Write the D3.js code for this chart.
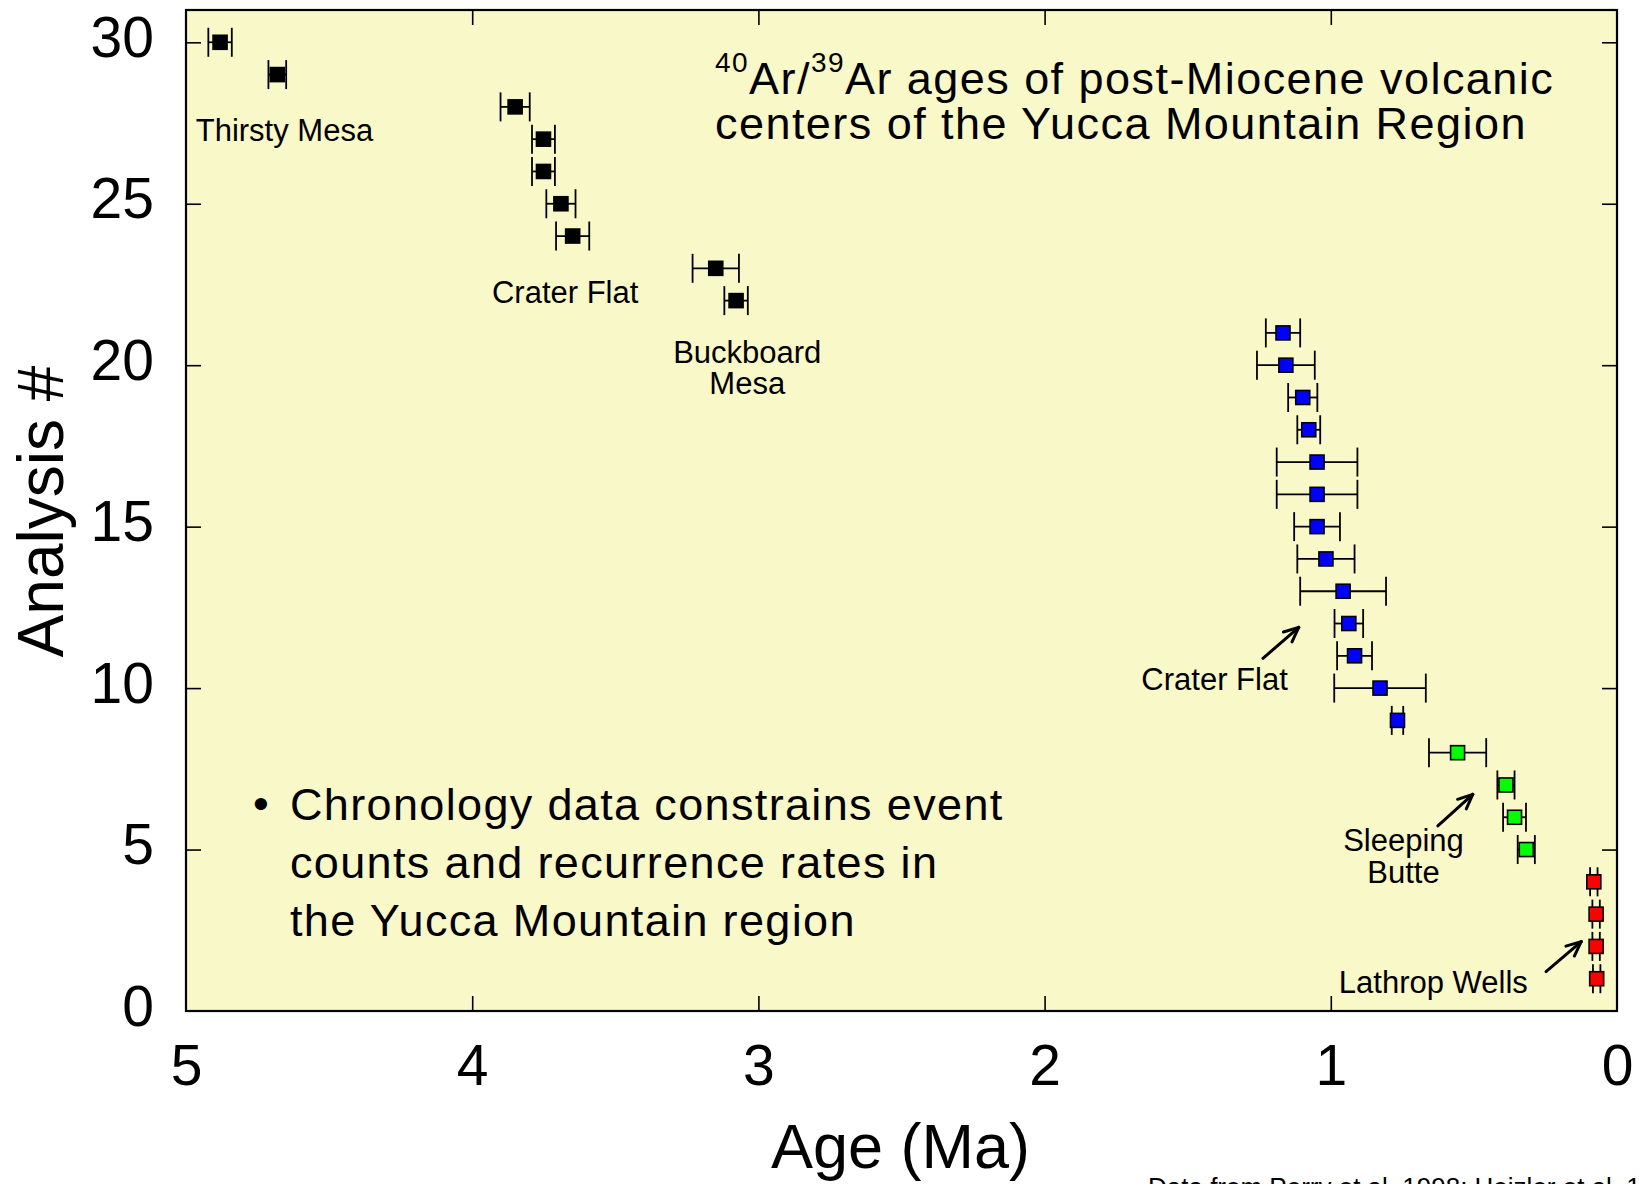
<!DOCTYPE html>
<html>
<head>
<meta charset="utf-8">
<script src="https://cdn.jsdelivr.net/npm/d3@7/dist/d3.min.js"></script>
<style>
  html, body { margin: 0; padding: 0; background: #ffffff; }
  svg { display: block; font-family: "Liberation Sans", Arial, Helvetica, sans-serif; }
</style>
</head>
<body>
<svg id="chart" width="1639" height="1184"></svg>
<script>
// ---------------- DATA ----------------
const analysisNo = [1, 2, 3, 4, 5, 6, 7, 8, 9, 10, 11, 12, 13, 14, 15, 16, 17, 18, 19, 20, 21, 22, 23, 24, 25, 26, 27, 28, 29, 30];
const ageMa = [0.071, 0.073, 0.073, 0.081, 0.317, 0.358, 0.388, 0.557, 0.767, 0.828,
               0.917, 0.937, 0.957, 1.017, 1.048, 1.048, 1.048, 1.077, 1.098, 1.157,
               1.167, 3.078, 3.149, 3.649, 3.690, 3.751, 3.751, 3.850, 4.681, 4.881];
const errMa = [0.013, 0.013, 0.013, 0.013, 0.030, 0.040, 0.030, 0.100, 0.020, 0.160,
               0.061, 0.050, 0.150, 0.100, 0.080, 0.141, 0.141, 0.040, 0.051, 0.101,
               0.060, 0.041, 0.081, 0.058, 0.051, 0.040, 0.040, 0.051, 0.031, 0.041];
const centre = ["Lathrop Wells", "Lathrop Wells", "Lathrop Wells", "Lathrop Wells",
                "Sleeping Butte", "Sleeping Butte", "Sleeping Butte", "Sleeping Butte",
                "Crater Flat (Q)", "Crater Flat (Q)", "Crater Flat (Q)", "Crater Flat (Q)", "Crater Flat (Q)",
                "Crater Flat (Q)", "Crater Flat (Q)", "Crater Flat (Q)", "Crater Flat (Q)", "Crater Flat (Q)",
                "Crater Flat (Q)", "Crater Flat (Q)", "Crater Flat (Q)",
                "Buckboard Mesa", "Buckboard Mesa",
                "Crater Flat (P)", "Crater Flat (P)", "Crater Flat (P)", "Crater Flat (P)", "Crater Flat (P)",
                "Thirsty Mesa", "Thirsty Mesa"];
const xTicks = [5, 4, 3, 2, 1, 0];
const yTicks = [0, 5, 10, 15, 20, 25, 30];

// Annotation labels (data units) and arrows (data units)
const labelText = ["Thirsty Mesa", "Crater Flat", "Buckboard", "Mesa", "Crater Flat", "Sleeping", "Butte", "Lathrop Wells"];
const labelAge  = [4.966, 3.931, 3.039, 3.039, 1.662, 0.746, 0.746, 0.972];
const labelNo   = [26.94, 21.93, 20.08, 19.11, 9.94, 4.96, 3.95, 0.55];
const labelAnchor = ["start", "start", "middle", "middle", "start", "middle", "middle", "start"];
const arrowFromAge = [1.237, 0.626, 0.248];
const arrowFromNo  = [10.92, 5.73, 1.22];
const arrowToAge   = [1.112, 0.504, 0.125];
const arrowToNo    = [11.88, 6.71, 2.15];

const titleLines = ["Ar ages of post-Miocene volcanic", "centers of the Yucca Mountain Region"];
const bulletLines = ["Chronology data constrains event", "counts and recurrence rates in", "the Yucca Mountain region"];

// ---------------- STYLE / LAYOUT ----------------
const colorOf = {
  "Lathrop Wells": "#ff0000",
  "Sleeping Butte": "#00ff00",
  "Crater Flat (Q)": "#0000ff",
  "Buckboard Mesa": "#000000",
  "Crater Flat (P)": "#000000",
  "Thirsty Mesa": "#000000"
};
const plot = { left: 186, right: 1617, top: 10, bottom: 1011 };
const bg = "#f9f8c8";

const svg = d3.select("#chart");
svg.append("rect").attr("width", 1639).attr("height", 1184).attr("fill", "#ffffff");

const x = d3.scaleLinear().domain([5, 0]).range([plot.left, plot.right]);
const y = d3.scaleLinear().domain([0, 31]).range([plot.bottom, plot.top]);

svg.append("rect")
  .attr("x", plot.left).attr("y", plot.top)
  .attr("width", plot.right - plot.left).attr("height", plot.bottom - plot.top)
  .attr("fill", bg);

// Axes with inward ticks on all four sides
const tickLen = 15;
const axB = svg.append("g").attr("transform", `translate(0,${plot.bottom})`)
  .call(d3.axisBottom(x).tickValues(xTicks).tickSizeInner(-tickLen).tickSizeOuter(0).tickPadding(34).tickFormat(d3.format("d")));
const axT = svg.append("g").attr("transform", `translate(0,${plot.top})`)
  .call(d3.axisTop(x).tickValues(xTicks).tickSizeInner(-tickLen).tickSizeOuter(0).tickFormat(""));
const axL = svg.append("g").attr("transform", `translate(${plot.left},0)`)
  .call(d3.axisLeft(y).tickValues(yTicks).tickSizeInner(-tickLen).tickSizeOuter(0).tickPadding(32).tickFormat(d3.format("d")));
const axR = svg.append("g").attr("transform", `translate(${plot.right},0)`)
  .call(d3.axisRight(y).tickValues(yTicks).tickSizeInner(-tickLen).tickSizeOuter(0).tickFormat(""));
[axB, axT, axL, axR].forEach(a => {
  a.select(".domain").remove();
  a.selectAll(".tick line").attr("stroke", "#000").attr("stroke-width", 1.6);
});
axB.selectAll(".tick text").attr("font-size", 57).attr("fill", "#000")
  .attr("font-family", "Liberation Sans, Arial, sans-serif");
axL.selectAll(".tick text").attr("font-size", 57).attr("fill", "#000")
  .attr("font-family", "Liberation Sans, Arial, sans-serif").attr("dy", "0.25em");
// hide tick marks at the very edges (they coincide with the frame)
[axB, axT].forEach(a => a.selectAll(".tick").filter(d => d === 5 || d === 0).select("line").remove());
[axL, axR].forEach(a => a.selectAll(".tick").filter(d => d === 0).select("line").remove());

// Frame
svg.append("rect")
  .attr("x", plot.left).attr("y", plot.top)
  .attr("width", plot.right - plot.left).attr("height", plot.bottom - plot.top)
  .attr("fill", "none").attr("stroke", "#000").attr("stroke-width", 2.2);

// Axis titles
svg.append("text").attr("x", (plot.left + plot.right) / 2 - 1).attr("y", 1168)
  .attr("text-anchor", "middle").attr("font-size", 63).attr("fill", "#000").text("Age (Ma)");
svg.append("text").attr("transform", `translate(63,${(plot.top + plot.bottom) / 2 + 1}) rotate(-90)`)
  .attr("text-anchor", "middle").attr("font-size", 64).attr("fill", "#000").text("Analysis #");

// Data
const data = analysisNo.map((n, i) => ({ n, age: ageMa[i], err: errMa[i], c: centre[i] }));
const capHalf = 14.5;
const g = svg.append("g");
const eb = g.selectAll("g.eb").data(data).join("g").attr("class", "eb")
  .attr("stroke", "#000").attr("stroke-width", 1.8);
eb.append("line").attr("x1", d => x(d.age + d.err)).attr("x2", d => x(d.age - d.err))
  .attr("y1", d => y(d.n)).attr("y2", d => y(d.n));
eb.append("line").attr("x1", d => x(d.age + d.err)).attr("x2", d => x(d.age + d.err))
  .attr("y1", d => y(d.n) - capHalf).attr("y2", d => y(d.n) + capHalf);
eb.append("line").attr("x1", d => x(d.age - d.err)).attr("x2", d => x(d.age - d.err))
  .attr("y1", d => y(d.n) - capHalf).attr("y2", d => y(d.n) + capHalf);

const sq = 14;
g.selectAll("rect.pt").data(data).join("rect").attr("class", "pt")
  .attr("x", d => x(d.age) - sq / 2).attr("y", d => y(d.n) - sq / 2)
  .attr("width", sq).attr("height", sq)
  .attr("fill", d => colorOf[d.c])
  .attr("stroke", "#000").attr("stroke-width", 1.6);

// Annotation labels
svg.append("g").selectAll("text").data(labelText).join("text")
  .attr("x", (d, i) => x(labelAge[i])).attr("y", (d, i) => y(labelNo[i]))
  .attr("text-anchor", (d, i) => labelAnchor[i])
  .attr("font-size", 31).attr("fill", "#000").text(d => d);

// Arrows
const arrows = arrowFromAge.map((a, i) => ({
  x1: x(a), y1: y(arrowFromNo[i]), x2: x(arrowToAge[i]), y2: y(arrowToNo[i])
}));
const ag = svg.append("g").attr("stroke", "#000").attr("stroke-width", 3).attr("stroke-linecap", "round").attr("fill", "none");
arrows.forEach(a => {
  ag.append("line").attr("x1", a.x1).attr("y1", a.y1).attr("x2", a.x2).attr("y2", a.y2);
  const ang = Math.atan2(a.y2 - a.y1, a.x2 - a.x1);
  const hl = 16, spread = 0.42;
  [ang + Math.PI - spread, ang + Math.PI + spread].forEach(t => {
    ag.append("line").attr("x1", a.x2).attr("y1", a.y2)
      .attr("x2", a.x2 + hl * Math.cos(t)).attr("y2", a.y2 + hl * Math.sin(t));
  });
});

// Title
const title = svg.append("text").attr("x", 715).attr("y", 94).attr("font-size", 45)
  .attr("letter-spacing", 1.45).attr("fill", "#000");
title.append("tspan").attr("font-size", 28).attr("dy", -22).text("40");
title.append("tspan").attr("dy", 22).text("Ar/");
title.append("tspan").attr("font-size", 28).attr("dy", -22).text("39");
title.append("tspan").attr("dy", 22).text(titleLines[0]);
svg.append("text").attr("x", 715).attr("y", 138.5).attr("font-size", 45)
  .attr("letter-spacing", 1.45).attr("fill", "#000").text(titleLines[1]);

// Bullet text
svg.append("text").attr("x", 261).attr("y", 819).attr("text-anchor", "middle")
  .attr("font-size", 45).attr("fill", "#000").text("•");
svg.append("g").selectAll("text").data(bulletLines).join("text")
  .attr("x", 290).attr("y", (d, i) => 819.5 + i * 58)
  .attr("font-size", 45).attr("letter-spacing", 1.35).attr("fill", "#000").text(d => d);

// Source note (cut by bottom edge as in the original)
svg.append("text").attr("x", 1148).attr("y", 1196).attr("font-size", 26).attr("fill", "#000")
  .text("Data from Perry et al. 1998; Heizler et al. 1999");
</script>
</body>
</html>
